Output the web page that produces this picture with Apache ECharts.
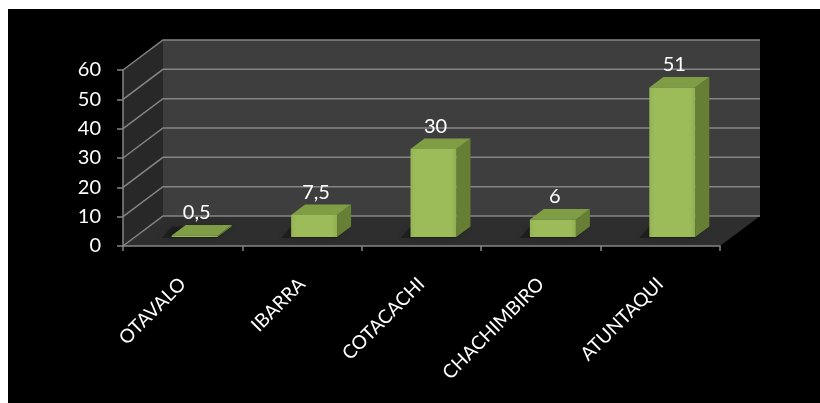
<!DOCTYPE html>
<html>
<head>
<meta charset="utf-8">
<script src="https://cdn.jsdelivr.net/npm/echarts@6/dist/echarts.min.js"></script>
<style>
  html, body { margin: 0; padding: 0; background: #ffffff; width: 820px; height: 403px; overflow: hidden; }
  #chart { position: absolute; left: 8px; top: 9px; width: 812px; height: 394px; background: #000000; }
</style>
</head>
<body>
<div id="chart"></div>
<script>
// Towns and their values
const categories = ['OTAVALO', 'IBARRA', 'COTACACHI', 'CHACHIMBIRO', 'ATUNTAQUI'];
const values = [0.5, 7.5, 30, 6, 51];

// Value axis range
const yMin = 0;
const yMax = 60;
const yStep = 10;

// Perspective offset of the back wall relative to the front plane (px)
const DEPTH = [40, -30];
const BAR_FRONT = 0.3;   // where the bar front face sits inside the depth
const BAR_DEPTH = 0.35;  // how deep the bar box is
const BAR_WIDTH = 0.385; // share of the category band

const FONT = 'Lato, "Open Sans", sans-serif';
const GRID_COLOR = '#858585';

const fmt = v => String(v).replace('.', ',');

const chart = echarts.init(document.getElementById('chart'), null, { renderer: 'canvas' });

// Walls, floor and gridlines of the 3D box
function renderWalls(params, api) {
  const bw = api.size([1, 0])[0];
  const n = categories.length;
  const left = api.coord([0, yMin])[0] - bw / 2;
  const right = api.coord([n - 1, yMin])[0] + bw / 2;
  const yb = api.coord([0, yMin])[1];
  const yt = api.coord([0, yMax])[1];
  const dx = DEPTH[0], dy = DEPTH[1];
  const children = [];
  // side wall
  children.push({ type: 'polygon', shape: { points: [[left, yb], [left, yt], [left + dx, yt + dy], [left + dx, yb + dy]] },
    style: { fill: '#282828' } });
  // back wall
  children.push({ type: 'polygon', shape: { points: [[left + dx, yt + dy], [right + dx, yt + dy], [right + dx, yb + dy], [left + dx, yb + dy]] },
    style: { fill: '#3e3e3e' } });
  // floor
  children.push({ type: 'polygon', shape: { points: [[left, yb], [right, yb], [right + dx, yb + dy], [left + dx, yb + dy]] },
    style: { fill: '#2e2e2e' } });
  // gridlines
  for (let v = yMin; v <= yMax; v += yStep) {
    const y = api.coord([0, v])[1];
    children.push({ type: 'polyline', shape: { points: [[left, y], [left + dx, y + dy], [right + dx, y + dy]] },
      style: { stroke: GRID_COLOR, lineWidth: 1.5, fill: null } });
  }
  return { type: 'group', children };
}

// One 3D box per town, with its value label above
function renderBar(params, api) {
  const i = api.value(0);
  const v = api.value(1);
  const bw = api.size([1, 0])[0];
  const base = api.coord([i, 0]);
  const top = api.coord([i, v]);
  const w = bw * BAR_WIDTH;
  const ox = DEPTH[0] * BAR_FRONT, oy = DEPTH[1] * BAR_FRONT;
  const dx = DEPTH[0] * BAR_DEPTH, dy = DEPTH[1] * BAR_DEPTH;
  const x0 = base[0] + ox - w / 2;
  const x1 = x0 + w;
  const yb = base[1] + oy;
  const yt = top[1] + oy;
  return {
    type: 'group',
    children: [
      // soft shadow on the floor
      { type: 'polygon', shape: { points: [[x0 - 10, yb + 1], [x1, yb + 1], [x1 + dx, yb + dy], [x0 + dx - 14, yb + dy]] },
        style: { fill: 'rgba(0,0,0,0.3)', shadowColor: 'rgba(0,0,0,0.5)', shadowBlur: 8 } },
      { type: 'polygon', shape: { points: [[x1, yb], [x1, yt], [x1 + dx, yt + dy], [x1 + dx, yb + dy]] },
        style: { fill: '#667f34' } },
      { type: 'polygon', shape: { points: [[x0, yt], [x1, yt], [x1 + dx, yt + dy], [x0 + dx, yt + dy]] },
        style: { fill: '#7f9d44' } },
      { type: 'rect', shape: { x: x0, y: yt, width: w, height: Math.max(yb - yt, 0.5) },
        style: { fill: new echarts.graphic.LinearGradient(0, 0, 1, 0, [
          { offset: 0, color: '#94b455' }, { offset: 0.12, color: '#9cbc5a' },
          { offset: 0.88, color: '#9cbc5a' }, { offset: 1, color: '#90ae51' }]) } },
      { type: 'text', style: { text: fmt(v), x: (x0 + x1) / 2 + 2, y: yt + dy - 12,
        align: 'center', verticalAlign: 'middle', fill: '#ffffff', fontSize: 20, fontFamily: FONT } }
    ]
  };
}

chart.setOption({
  backgroundColor: '#000000',
  animation: false,
  grid: { left: 115, right: 100, top: 61, bottom: 157, containLabel: false },
  xAxis: {
    type: 'category',
    data: categories,
    z: 10,
    axisLine: { show: true, lineStyle: { color: GRID_COLOR, width: 1.5 } },
    axisTick: { show: true, alignWithLabel: false, length: 5, lineStyle: { color: GRID_COLOR, width: 1.5 } },
    axisLabel: { rotate: 45, margin: 35, color: '#ffffff', fontSize: 19, fontFamily: FONT, interval: 0 },
    splitLine: { show: false }
  },
  yAxis: {
    type: 'value',
    min: yMin, max: yMax, interval: yStep,
    z: 10,
    axisLine: { show: true, lineStyle: { color: GRID_COLOR, width: 1.5 } },
    axisTick: { show: true, length: 6, lineStyle: { color: GRID_COLOR, width: 1.5 } },
    axisLabel: { margin: 22, color: '#ffffff', fontSize: 20, fontFamily: FONT },
    splitLine: { show: false }
  },
  series: [
    { type: 'custom', name: 'box', renderItem: renderWalls, data: [[0, 0]], clip: false, z: 1, silent: true },
    { type: 'custom', name: 'valores', renderItem: renderBar,
      data: values.map((v, i) => [i, v]), clip: false, z: 3,
      encode: { x: 0, y: 1 } }
  ]
});
</script>
</body>
</html>
